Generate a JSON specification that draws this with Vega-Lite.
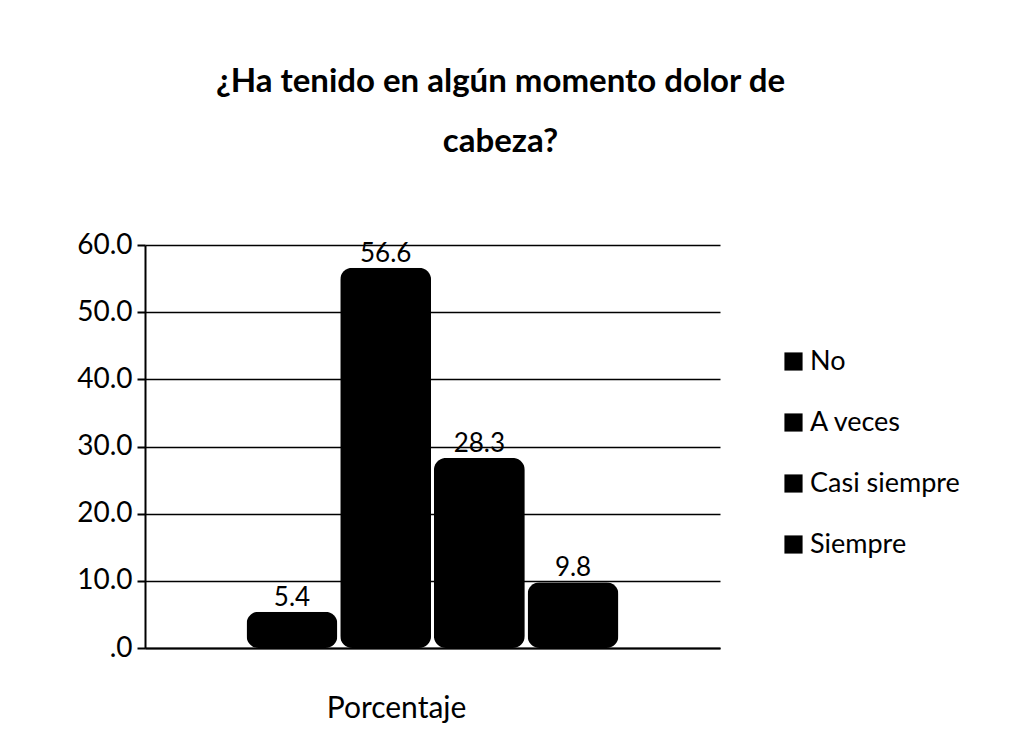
{
  "$schema": "https://vega.github.io/schema/vega-lite/v6.json",
  "width": 575,
  "height": 403,
  "autosize": {"type": "none"},
  "padding": {"left": 145, "top": 245, "right": 297, "bottom": 107},
  "background": "white",
  "title": {
    "text": ["¿Ha tenido en algún momento dolor de", "cabeza?"],
    "font": "Lato",
    "fontSize": 33,
    "fontWeight": "bold",
    "color": "black",
    "anchor": "middle",
    "dx": 68,
    "offset": 72,
    "lineHeight": 60
  },
  "data": {
    "values": [
      {"grupo": "Porcentaje", "respuesta": "No", "valor": 5.4},
      {"grupo": "Porcentaje", "respuesta": "A veces", "valor": 56.6},
      {"grupo": "Porcentaje", "respuesta": "Casi siempre", "valor": 28.3},
      {"grupo": "Porcentaje", "respuesta": "Siempre", "valor": 9.8}
    ]
  },
  "encoding": {
    "x": {
      "field": "grupo",
      "type": "nominal",
      "title": null,
      "scale": {"paddingInner": 0, "paddingOuter": 0.273},
      "axis": {
        "labelAngle": 0,
        "labelFont": "Lato",
        "labelFontSize": 30,
        "labelColor": "black",
        "labelPadding": 45,
        "labelOffset": -36,
        "domainColor": "black",
        "domainWidth": 2,
        "ticks": false
      }
    },
    "xOffset": {
      "field": "respuesta",
      "type": "nominal",
      "sort": ["No", "A veces", "Casi siempre", "Siempre"],
      "scale": {"paddingInner": 0.03}
    },
    "y": {
      "field": "valor",
      "type": "quantitative",
      "title": null,
      "scale": {"domain": [0, 60]},
      "axis": {
        "values": [0, 10, 20, 30, 40, 50, 60],
        "labelExpr": "datum.value == 0 ? '.0' : format(datum.value, '.1f')",
        "labelFont": "Lato",
        "labelFontSize": 28,
        "labelColor": "black",
        "labelPadding": 5,
        "domainColor": "black",
        "domainWidth": 2,
        "tickColor": "black",
        "tickSize": 8,
        "tickWidth": 2,
        "grid": true,
        "gridColor": "black",
        "gridWidth": 1.5
      }
    }
  },
  "layer": [
    {
      "mark": {"type": "bar", "cornerRadius": 12},
      "encoding": {
        "color": {
          "field": "respuesta",
          "type": "nominal",
          "sort": ["No", "A veces", "Casi siempre", "Siempre"],
          "scale": {"range": ["black", "black", "black", "black"]},
          "legend": {
            "title": null,
            "orient": "none",
            "legendX": 635,
            "legendY": 103,
            "symbolType": "square",
            "symbolSize": 330,
            "symbolStrokeWidth": 0,
            "labelFont": "Lato",
            "labelFontSize": 27,
            "labelColor": "black",
            "labelOffset": 3,
            "rowPadding": 33,
            "labelLimit": 300
          }
        }
      }
    },
    {
      "mark": {"type": "text", "baseline": "bottom", "dy": -1, "font": "Lato", "fontSize": 26, "color": "black"},
      "encoding": {
        "text": {"field": "valor", "type": "quantitative", "format": ".1f"}
      }
    }
  ],
  "config": {
    "view": {"stroke": null}
  }
}
